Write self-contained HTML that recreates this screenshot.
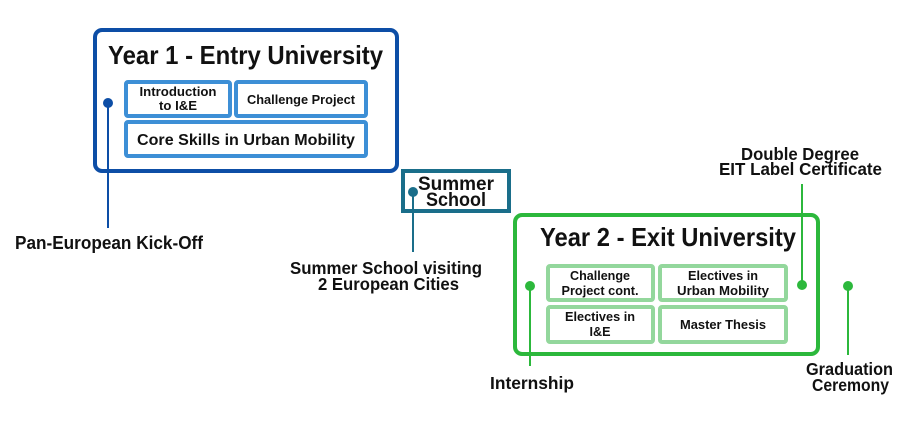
<!DOCTYPE html>
<html><head><meta charset="utf-8"><style>
html,body{margin:0;padding:0;background:#fff;width:912px;height:421px;overflow:hidden}
text{font-family:"Liberation Sans",sans-serif;font-weight:bold;fill:#111}
</style></head><body>
<svg width="912" height="421" viewBox="0 0 912 421" xmlns="http://www.w3.org/2000/svg">
<!-- Year 1 -->
<rect x="95" y="30" width="302" height="141" rx="7" fill="#fff" stroke="#0d4ea6" stroke-width="4"/>
<text x="108" y="64" font-size="26" textLength="275" lengthAdjust="spacingAndGlyphs">Year 1 - Entry University</text>
<rect x="126" y="82" width="104" height="34" rx="2" fill="#fff" stroke="#3d8fd6" stroke-width="4"/>
<rect x="236" y="82" width="130" height="34" rx="2" fill="#fff" stroke="#3d8fd6" stroke-width="4"/>
<rect x="126" y="122" width="240" height="34" rx="2" fill="#fff" stroke="#3d8fd6" stroke-width="4"/>
<text x="178" y="96" font-size="12.5" text-anchor="middle" textLength="77" lengthAdjust="spacingAndGlyphs">Introduction</text>
<text x="178" y="110" font-size="12.5" text-anchor="middle" textLength="38" lengthAdjust="spacingAndGlyphs">to I&amp;E</text>
<text x="301" y="104" font-size="12.5" text-anchor="middle" textLength="108" lengthAdjust="spacingAndGlyphs">Challenge Project</text>
<text x="246" y="145" font-size="15.5" text-anchor="middle" textLength="218" lengthAdjust="spacingAndGlyphs">Core Skills in Urban Mobility</text>
<circle cx="108" cy="103" r="5" fill="#0d4ea6"/>
<line x1="108" y1="103" x2="108" y2="228" stroke="#0d4ea6" stroke-width="2"/>
<text x="15" y="249" font-size="18.5" textLength="188" lengthAdjust="spacingAndGlyphs">Pan-European Kick-Off</text>
<!-- Summer -->
<rect x="403" y="171" width="106" height="40" fill="#fff" stroke="#1a6e8a" stroke-width="4"/>
<text x="456" y="190" font-size="19" text-anchor="middle" textLength="76" lengthAdjust="spacingAndGlyphs">Summer</text>
<text x="456" y="206" font-size="19" text-anchor="middle" textLength="60" lengthAdjust="spacingAndGlyphs">School</text>
<circle cx="413" cy="192" r="5" fill="#1a6e8a"/>
<line x1="413" y1="192" x2="413" y2="252" stroke="#1a6e8a" stroke-width="2"/>
<text x="290" y="274" font-size="17.5" textLength="192" lengthAdjust="spacingAndGlyphs">Summer School visiting</text>
<text x="318" y="290" font-size="17.5" textLength="141" lengthAdjust="spacingAndGlyphs">2 European Cities</text>
<!-- Year 2 -->
<rect x="515" y="215" width="303" height="139" rx="7" fill="#fff" stroke="#2cb83c" stroke-width="4"/>
<text x="540" y="246" font-size="26" textLength="256" lengthAdjust="spacingAndGlyphs">Year 2 - Exit University</text>
<rect x="548" y="266" width="105" height="34" rx="2" fill="#fff" stroke="#93d79c" stroke-width="4"/>
<rect x="660" y="266" width="126" height="34" rx="2" fill="#fff" stroke="#93d79c" stroke-width="4"/>
<rect x="548" y="307" width="105" height="35" rx="2" fill="#fff" stroke="#93d79c" stroke-width="4"/>
<rect x="660" y="307" width="126" height="35" rx="2" fill="#fff" stroke="#93d79c" stroke-width="4"/>
<text x="600" y="280" font-size="13" text-anchor="middle" textLength="60" lengthAdjust="spacingAndGlyphs">Challenge</text>
<text x="600" y="295" font-size="13" text-anchor="middle" textLength="77" lengthAdjust="spacingAndGlyphs">Project cont.</text>
<text x="723" y="280" font-size="13" text-anchor="middle" textLength="70" lengthAdjust="spacingAndGlyphs">Electives in</text>
<text x="723" y="295" font-size="13" text-anchor="middle" textLength="92" lengthAdjust="spacingAndGlyphs">Urban Mobility</text>
<text x="600" y="321" font-size="13" text-anchor="middle" textLength="70" lengthAdjust="spacingAndGlyphs">Electives in</text>
<text x="600" y="336" font-size="13" text-anchor="middle" textLength="21" lengthAdjust="spacingAndGlyphs">I&amp;E</text>
<text x="723" y="329" font-size="13" text-anchor="middle" textLength="86" lengthAdjust="spacingAndGlyphs">Master Thesis</text>
<circle cx="530" cy="286" r="5" fill="#2cb83c"/>
<line x1="530" y1="286" x2="530" y2="366" stroke="#2cb83c" stroke-width="2"/>
<text x="490" y="389" font-size="17.5" textLength="84" lengthAdjust="spacingAndGlyphs">Internship</text>
<circle cx="802" cy="285" r="5" fill="#2cb83c"/>
<line x1="802" y1="285" x2="802" y2="184" stroke="#2cb83c" stroke-width="2"/>
<text x="741" y="160" font-size="17.5" textLength="118" lengthAdjust="spacingAndGlyphs">Double Degree</text>
<text x="719" y="175" font-size="17.5" textLength="163" lengthAdjust="spacingAndGlyphs">EIT Label Certificate</text>
<circle cx="848" cy="286" r="5" fill="#2cb83c"/>
<line x1="848" y1="286" x2="848" y2="355" stroke="#2cb83c" stroke-width="2"/>
<text x="806" y="375" font-size="17.5" textLength="87" lengthAdjust="spacingAndGlyphs">Graduation</text>
<text x="812" y="391" font-size="17.5" textLength="77" lengthAdjust="spacingAndGlyphs">Ceremony</text>
</svg>
</body></html>
